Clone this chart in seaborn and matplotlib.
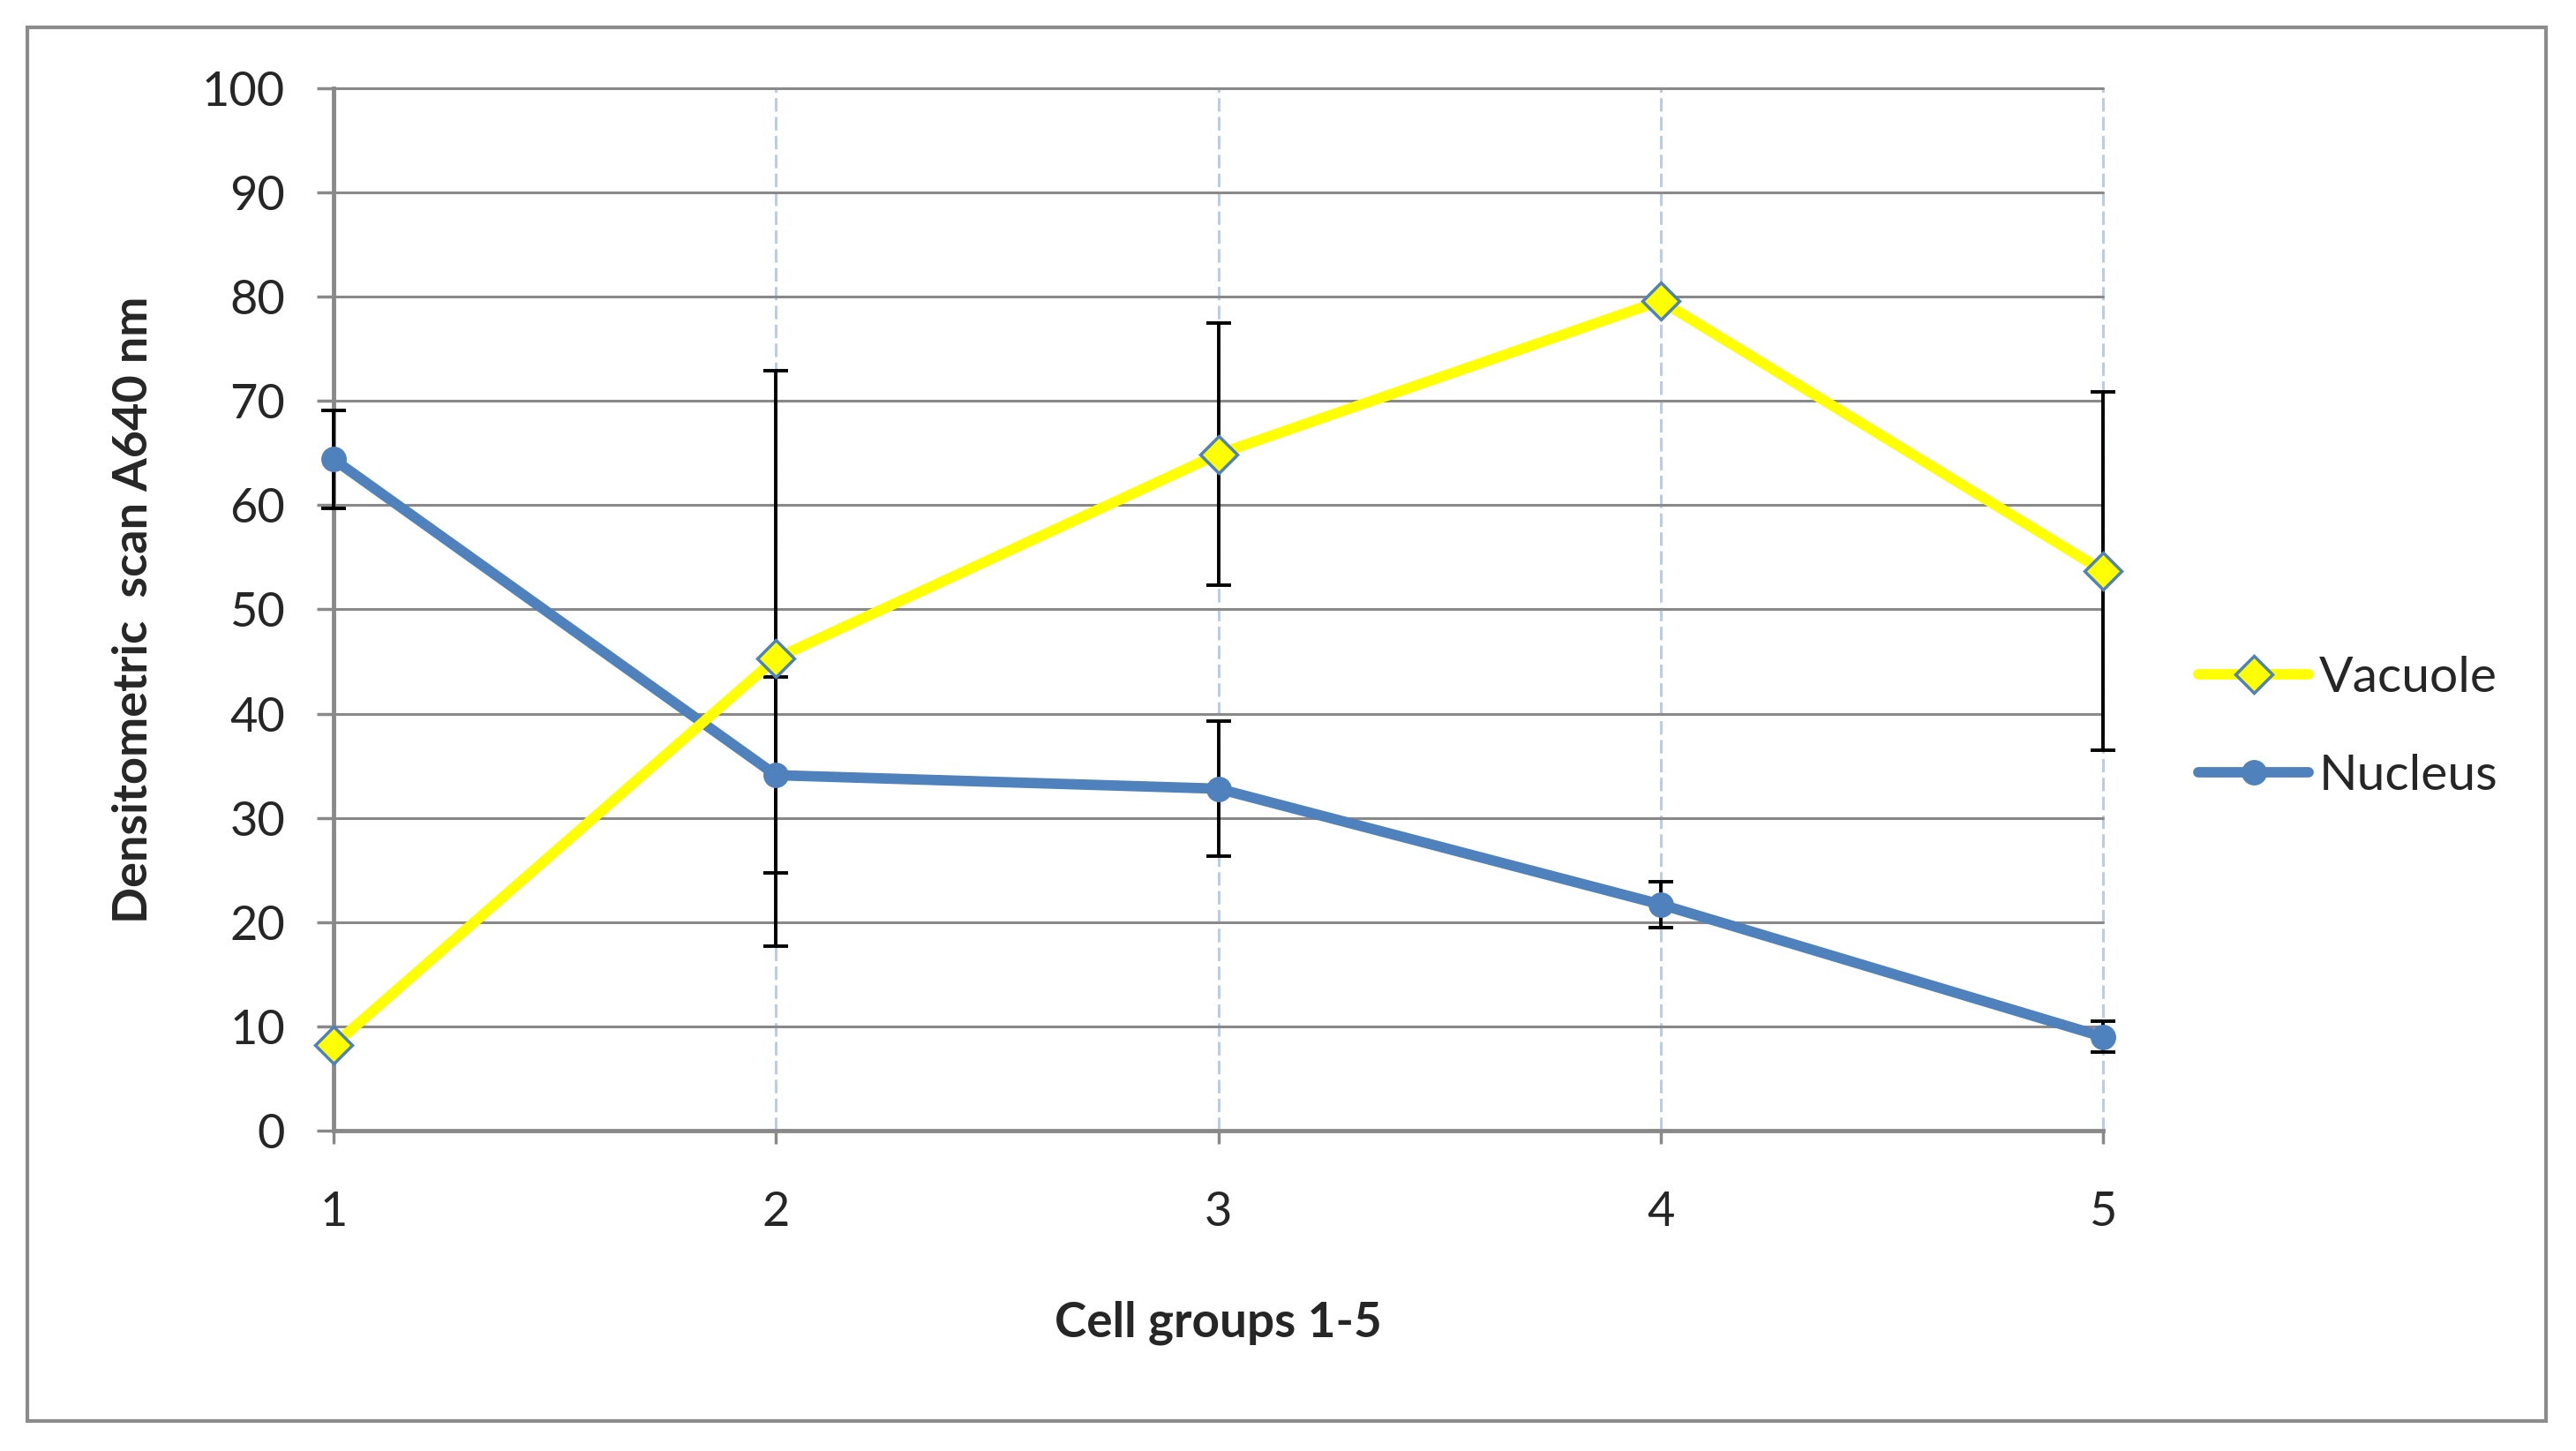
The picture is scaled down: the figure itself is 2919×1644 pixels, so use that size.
import matplotlib
matplotlib.use('Agg')
import matplotlib.pyplot as plt
import seaborn as sns
import pandas as pd
from matplotlib.patches import Rectangle

# 数据
groups = [1, 2, 3, 4, 5]
vacuole = [8.2, 45.3, 64.9, 79.6, 53.7]
vacuole_err = [0, 27.6, 12.6, 0, 17.2]
nucleus = [64.4, 34.1, 32.8, 21.7, 9.0]
nucleus_err = [4.7, 9.4, 6.5, 2.2, 1.5]

yellow = '#ffff00'
blue = '#4f81bd'
grid_gray = '#898989'

sns.set_style("white")
plt.rcParams['font.family'] = ['Lato', 'DejaVu Sans']

df = pd.DataFrame({'group': groups, 'Vacuole': vacuole, 'Nucleus': nucleus})

fig = plt.figure(figsize=(29.19, 16.44), dpi=100)
ax = fig.add_axes([0.1295, 0.2208, 0.6869, 0.7184])

# 误差线 (在标记下面)
ax.errorbar(groups, vacuole, yerr=vacuole_err, fmt='none', ecolor='black',
            elinewidth=2.8, capsize=10, capthick=2.8, zorder=3, clip_on=False)
ax.errorbar(groups, nucleus, yerr=nucleus_err, fmt='none', ecolor='black',
            elinewidth=2.8, capsize=10, capthick=2.8, zorder=3, clip_on=False)

sns.lineplot(data=df, x='group', y='Vacuole', ax=ax, color=yellow, lw=8.5,
             marker='D', markersize=21, markerfacecolor=yellow,
             markeredgecolor=blue, markeredgewidth=2.5, label='Vacuole',
             zorder=5, clip_on=False)
sns.lineplot(data=df, x='group', y='Nucleus', ax=ax, color=blue, lw=8.5,
             marker='o', markersize=20, markerfacecolor=blue,
             markeredgecolor=blue, label='Nucleus', zorder=4, clip_on=False)

ax.set_xlim(1, 5)
ax.set_ylim(0, 100)
ax.set_xticks(groups)
ax.set_yticks(range(0, 101, 10))

ax.set_axisbelow(True)
ax.yaxis.grid(True, color=grid_gray, lw=2.2, ls='-')
ax.xaxis.grid(True, color='#b9cde5', lw=2.2, ls=(0, (5, 2)))
for gl in ax.get_xgridlines() + ax.get_ygridlines():
    gl.set_clip_on(False)

for s in ['top', 'right']:
    ax.spines[s].set_visible(False)
for s in ['left', 'bottom']:
    ax.spines[s].set_color(grid_gray)
    ax.spines[s].set_linewidth(3.5)

ax.tick_params(axis='y', direction='out', length=13.5, width=2.5, color=grid_gray,
               labelsize=39, pad=26, left=True)
ax.tick_params(axis='x', direction='out', length=11, width=2.5, color=grid_gray,
               labelsize=39, pad=38, bottom=True)

ax.set_xlabel('Cell groups 1-5', fontsize=39.5, fontweight='bold', labelpad=54)
ax.set_ylabel('Densitometric  scan A640 nm', fontsize=39, fontweight='bold', labelpad=38)

ax.legend(loc='center left', bbox_to_anchor=(0.8534, 0.4990),
          bbox_transform=fig.transFigure, frameon=False, fontsize=41,
          handlelength=2.2, handletextpad=0.2, borderaxespad=0, borderpad=0,
          labelspacing=1.05)

# 外框
fig.patches.append(Rectangle((31 / 2919, 1 - 1610 / 1644), (2885 - 31) / 2919,
                             (1610 - 31) / 1644, transform=fig.transFigure,
                             fill=False, edgecolor='#8c8c8c', lw=3))

fig.savefig('out.png', dpi=100)
